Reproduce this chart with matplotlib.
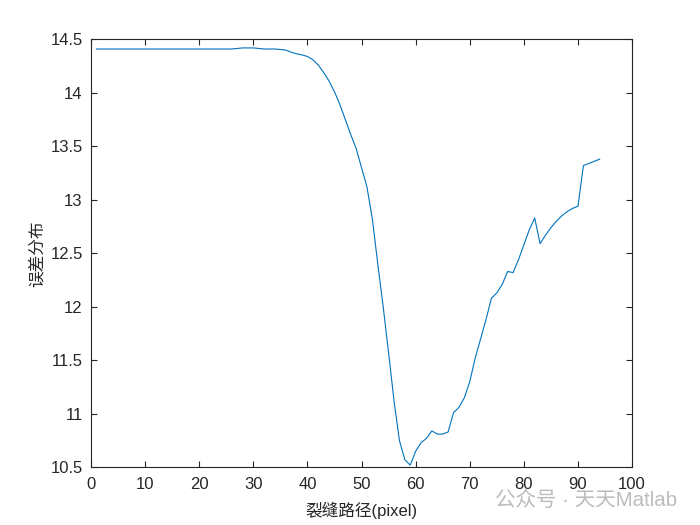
import matplotlib
matplotlib.use("Agg")
import matplotlib.pyplot as plt

x_vals = list(range(1, 95))
y_vals = [
    14.41, 14.41, 14.41, 14.41, 14.41, 14.41, 14.41, 14.41, 14.41, 14.41,
    14.41, 14.41, 14.41, 14.41, 14.41, 14.41, 14.41, 14.41, 14.41, 14.41,
    14.41, 14.41, 14.41, 14.41, 14.41, 14.41, 14.415, 14.42, 14.42, 14.42,
    14.415, 14.41, 14.41, 14.41, 14.405, 14.40, 14.38, 14.365, 14.355, 14.34,
    14.31, 14.26, 14.19, 14.11, 14.01, 13.89, 13.75, 13.61, 13.48, 13.30,
    13.12, 12.82, 12.40, 12.00, 11.57, 11.12, 10.75, 10.57, 10.52, 10.65,
    10.73, 10.77, 10.84, 10.81, 10.81, 10.83, 11.01, 11.06, 11.15, 11.30,
    11.52, 11.70, 11.88, 12.08, 12.13, 12.21, 12.33, 12.32, 12.44, 12.58,
    12.72, 12.83, 12.59, 12.67, 12.74, 12.80, 12.85, 12.89, 12.92, 12.94,
    13.32, 13.34, 13.36, 13.38,
]
x_ticks = [0, 10, 20, 30, 40, 50, 60, 70, 80, 90, 100]
y_ticks = [10.5, 11, 11.5, 12, 12.5, 13, 13.5, 14, 14.5]
y_tick_labels = ["10.5", "11", "11.5", "12", "12.5", "13", "13.5", "14", "14.5"]
x_label = "裂缝路径(pixel)"
y_label = "误差分布"
watermark = "公众号 · 天天Matlab"

plt.rcParams['font.family'] = ['Liberation Sans', 'Noto Sans CJK SC', 'DejaVu Sans']

fig = plt.figure(figsize=(7, 5.25), dpi=100)
ax = fig.add_axes([0.13, 0.11, 0.773, 0.815])
ax.plot(x_vals, y_vals, color='#0072BD', linewidth=0.8)
ax.set_xlim(0, 100)
ax.set_ylim(10.5, 14.5)
ax.set_xticks(x_ticks)
ax.set_yticks(y_ticks)
ax.set_yticklabels(y_tick_labels)
ax.tick_params(direction='in', top=True, right=True, length=4.5, width=0.8,
               labelsize=12, colors='#262626')
ax.tick_params(axis='x', pad=7)
ax.tick_params(axis='y', pad=6)
for s in ax.spines.values():
    s.set_linewidth(0.8)
    s.set_color('#262626')
ax.set_xlabel(x_label, fontsize=12, color='#262626', labelpad=7)
ax.set_ylabel(y_label, fontsize=12, color='#262626', labelpad=4)
fig.text(0.968, 0.047, watermark, ha='right', va='center', fontsize=14.8,
         color='#bcbcbc')
fig.savefig("out.png", dpi=100)
